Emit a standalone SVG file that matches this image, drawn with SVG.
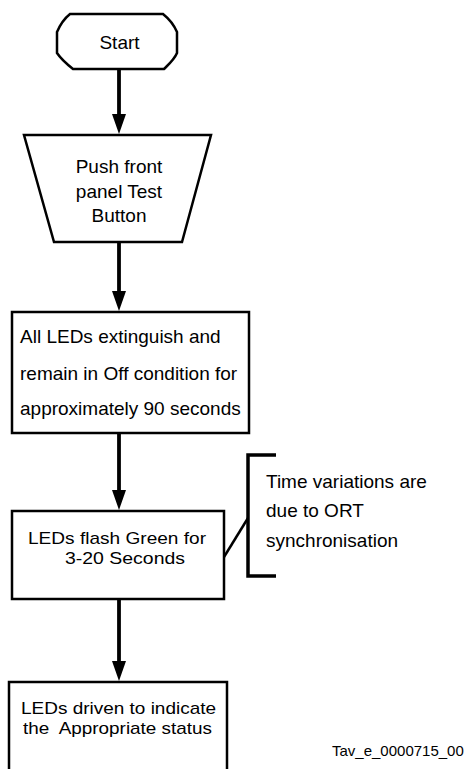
<svg xmlns="http://www.w3.org/2000/svg" width="468" height="769" viewBox="0 0 468 769">
<style>
.shape{fill:#fff;stroke:#000;stroke-width:2.5;stroke-linejoin:miter}
.t{font-family:"Liberation Sans",Arial,sans-serif;font-size:19px;fill:#000}
.s{font-size:17px}
.c{text-anchor:middle}
.conn{stroke:#000;stroke-width:3.8;fill:none}
.thin{stroke:#000;stroke-width:2.5;fill:none}
.br{stroke:#000;stroke-width:3.5;fill:none}
</style>
<defs>
<marker id="ah" viewBox="0 0 20 14" refX="1" refY="7" markerWidth="20" markerHeight="14" markerUnits="userSpaceOnUse" orient="auto">
<path d="M0,0 L20,7 L0,14 Z" fill="#000"/>
</marker>
</defs>
<rect width="468" height="769" fill="#fff"/>
<g id="connectors">
<line class="conn" x1="119" y1="69" x2="119" y2="115" marker-end="url(#ah)"/>
<line class="conn" x1="119" y1="242" x2="119" y2="292" marker-end="url(#ah)"/>
<line class="conn" x1="119" y1="433" x2="119" y2="491" marker-end="url(#ah)"/>
<line class="conn" x1="119" y1="599" x2="119" y2="662" marker-end="url(#ah)"/>
<line class="thin" x1="224" y1="557" x2="248" y2="518"/>
</g>
<g id="start">
<path class="shape" d="M70,14 H163 C168,18 174,25 177,32 V53 C174,60 168,65 164,69 H73 C68,65 61,59 57,53 V32 C60,25 65,18 70,14 Z"/>
<text class="t c" x="119.5" y="49">Start</text>
</g>
<g id="push">
<path class="shape" d="M24,135 H211 L182,242 H54 Z"/>
<text class="t c" x="119" y="173">Push front</text>
<text class="t c" x="119" y="198">panel Test</text>
<text class="t c" x="119" y="222">Button</text>
</g>
<g id="extinguish">
<rect class="shape" x="12" y="312" width="237" height="121"/>
<text class="t" x="20" y="343">All LEDs extinguish and</text>
<text class="t" x="20" y="380">remain in Off condition for</text>
<text class="t" x="20" y="415">approximately 90 seconds</text>
</g>
<g id="flash">
<rect class="shape" x="12" y="511" width="212" height="88"/>
<text class="t s" x="28" y="544" textLength="178" lengthAdjust="spacingAndGlyphs">LEDs flash Green for</text>
<text class="t s" x="65" y="563.5" textLength="120" lengthAdjust="spacingAndGlyphs">3-20 Seconds</text>
</g>
<g id="note">
<path class="br" d="M276,455 H248 V576 H276"/>
<text class="t" x="266" y="488">Time variations are</text>
<text class="t" x="266" y="517">due to ORT</text>
<text class="t" x="266" y="547">synchronisation</text>
</g>
<g id="driven">
<path class="shape" d="M9,775 V682 H227 V775"/>
<text class="t s" x="21" y="714" textLength="195" lengthAdjust="spacingAndGlyphs">LEDs driven to indicate</text>
<text class="t s" x="23" y="733.5" textLength="189" lengthAdjust="spacingAndGlyphs" xml:space="preserve" style="white-space:pre">the  Appropriate status</text>
</g>
<g id="ref">
<text class="t" x="332" y="756" style="font-size:15px">Tav_e_0000715_00</text>
</g>
</svg>
